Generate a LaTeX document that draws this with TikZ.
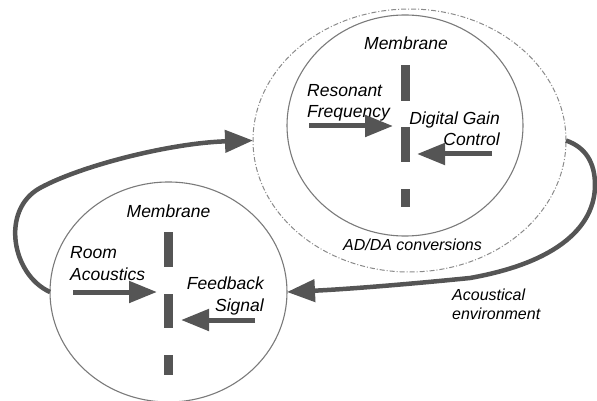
\documentclass[tikz,border=0pt]{standalone}
\usepackage{fontspec}
\setmainfont{Liberation Sans}
\usetikzlibrary{shapes.geometric,arrows.meta}
\definecolor{ink}{HTML}{555555}
\definecolor{rim}{HTML}{7A7A7A}
\definecolor{haze}{HTML}{8A8A8A}
\begin{document}
\begin{tikzpicture}[x=1pt,y=-1pt,
  rim/.style={ellipse, draw=rim, line width=1.1pt, inner sep=0pt, outer sep=0pt},
  zone/.style={ellipse, draw=haze, line width=1pt, inner sep=0pt, outer sep=0pt,
    dash pattern=on 5pt off 2pt on 1pt off 2pt},
  bar/.style={rectangle, fill=ink, inner sep=0pt, minimum width=9pt},
  push/.style={draw=ink, line width=5pt, -{Triangle[length=28pt,width=21pt]}},
  loop/.style={draw=ink, line width=4.5pt, -{Triangle[length=28pt,width=22pt]}},
  lbl/.style={font=\fontsize{17.5}{21.5}\selectfont\itshape, inner sep=0pt},
  note/.style={font=\fontsize{16}{19}\selectfont\itshape, inner sep=0pt, align=left}
]
\useasboundingbox (0,0) rectangle (597,401);

% --- upper unit: membrane with resonant frequency and digital gain control ---
\node[zone, minimum width=313pt, minimum height=263pt] (conv) at (409.5,140.5) {};
\node[rim, minimum width=236pt, minimum height=221pt] (upper) at (405,125.5) {};
\node[bar, minimum height=36pt] (ub1) at (405.5,83) {};
\node[bar, minimum height=35pt] (ub2) at (405.5,144.5) {};
\node[bar, minimum height=18pt] (ub3) at (405.5,198) {};
\node[lbl, anchor=base] (umem) at (406,50) {Membrane};
% two-line labels: the base anchor sits on the last line
\node[lbl, anchor=base west, align=left] (res) at (307,118) {Resonant\\Frequency};
\node[lbl, anchor=base east, align=right] (dgc) at (500,146) {Digital Gain\\Control};
\coordinate (resA) at (309,126);
\coordinate (resB) at (393,126);
\coordinate (dgcA) at (492,154);
\coordinate (dgcB) at (417,154);
\draw[push] (resA) -- (resB);
\draw[push] (dgcA) -- (dgcB);
\node[note, anchor=base] (adda) at (412.5,250) {AD/DA conversions};

% --- lower unit: membrane with room acoustics and feedback signal ---
\node[rim, minimum width=237pt, minimum height=220pt] (lower) at (168.5,292) {};
\node[bar, minimum height=35pt] (lb1) at (168,249.5) {};
\node[bar, minimum height=34pt] (lb2) at (168,311) {};
\node[bar, minimum height=20pt] (lb3) at (168,365) {};
\node[lbl, anchor=base] (lmem) at (168.5,217) {Membrane};
\node[lbl, anchor=base west, align=left] (room) at (70,280) {Room\\Acoustics};
\node[lbl, anchor=base east, align=right] (fb) at (264,311) {Feedback\\Signal};
\coordinate (roomA) at (73,292);
\coordinate (roomB) at (157,292);
\coordinate (fbA) at (255,320);
\coordinate (fbB) at (181,320);
\draw[push] (roomA) -- (roomB);
\draw[push] (fbA) -- (fbB);

% --- acoustic loop between the two units ---
\draw[loop] (lower.west) .. controls (12,275) and (0,210) .. (40,188)
  .. controls (80,166) and (170,143) .. (conv.west);
\draw[loop] (conv.east) .. controls (585,147) and (595,162) .. (595,185)
  .. controls (595,225) and (560,262) .. (470,278)
  .. controls (410,284) and (350,289) .. (lower.east);
\node[note, anchor=base west] (env) at (452,319) {Acoustical\\environment};
\end{tikzpicture}
\end{document}
